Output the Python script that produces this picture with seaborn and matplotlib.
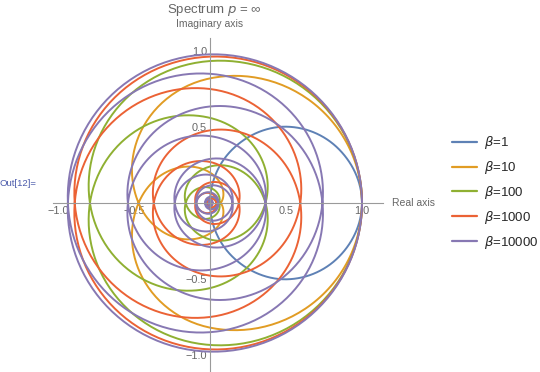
import numpy as np
import pandas as pd
import matplotlib
matplotlib.use("Agg")
import matplotlib.pyplot as plt
from matplotlib.lines import Line2D
import seaborn as sns

# Legend labels and the Mathematica default colours
betas = ["$\\beta$=1", "$\\beta$=10", "$\\beta$=100", "$\\beta$=1000", "$\\beta$=10000"]
colors = ["#5E81B5", "#E19C24", "#8FB032", "#EB6235", "#8778B3"]

# radius of each curve, one value per step of angle
# (beta=1 every eighth of a turn, the others every quarter of a turn)
r_b1 = [1.0, 0.92, 0.71, 0.38, 0.0]
r_b10 = [1.0, 0.82, 0.47, 0.20, 0.07, 0.025, 0.008, 0.0]
r_b100 = [1.0, 0.934, 0.79, 0.56, 0.365, 0.24, 0.16, 0.10, 0.06, 0.035, 0.02, 0.01, 0.0]
r_b1000 = [1.0, 0.963, 0.89, 0.75, 0.594, 0.478, 0.37, 0.27, 0.19, 0.135, 0.095,
           0.065, 0.043, 0.028, 0.018, 0.011, 0.006, 0.0]
r_b10000 = [1.0, 0.978, 0.935, 0.85, 0.74, 0.635, 0.54, 0.44, 0.365, 0.29, 0.232,
            0.185, 0.148, 0.115, 0.09, 0.07, 0.054, 0.041, 0.031, 0.023, 0.017,
            0.012, 0.008, 0.005, 0.0]
radii = [r_b1, r_b10, r_b100, r_b1000, r_b10000]
steps = [np.pi / 8, np.pi / 2, np.pi / 2, np.pi / 2, np.pi / 2]

x_ticks = [-1.0, -0.5, 0.5, 1.0]
x_tick_labels = ["\u22121.0", "\u22120.5", "0.5", "1.0"]


def smooth(r, step, per=60):
    # curve is symmetric about the real axis: mirror the read radii
    r = np.asarray(r, dtype=float)
    rr = np.concatenate([r[::-1], r[1:]])
    th = (np.arange(len(rr)) - (len(r) - 1)) * step
    p = np.concatenate([[2 * rr[0] - rr[1]], rr, [2 * rr[-1] - rr[-2]]])
    t = np.linspace(0, 1, per, endpoint=False)
    h00 = 2 * t**3 - 3 * t**2 + 1
    h10 = t**3 - 2 * t**2 + t
    h01 = -2 * t**3 + 3 * t**2
    h11 = t**3 - t**2
    r_out, th_out = [], []
    for i in range(len(rr) - 1):
        m0 = (p[i + 2] - p[i]) / 2
        m1 = (p[i + 3] - p[i + 1]) / 2
        r_out.append(h00 * rr[i] + h10 * m0 + h01 * rr[i + 1] + h11 * m1)
        th_out.append(th[i] + t * step)
    r_out.append([rr[-1]])
    th_out.append([th[-1]])
    r_out = np.clip(np.concatenate(r_out), 0, None)
    th_out = np.concatenate(th_out)
    return r_out * np.cos(th_out), r_out * np.sin(th_out)


frames = []
for lab, r, st in zip(betas, radii, steps):
    x, y = smooth(r, st)
    frames.append(pd.DataFrame({"x": x, "y": y, "beta": lab}))
df = pd.concat(frames, ignore_index=True)

sns.set_style("white")
plt.rcParams["font.family"] = ["Liberation Sans", "DejaVu Sans"]

fig = plt.figure(figsize=(5.4, 3.72), dpi=100)
# origin at pixel (210, 203), 152 px per unit
ax = fig.add_axes([53 / 540, 0.0, 330 / 540, 334 / 372])
sns.lineplot(data=df, x="x", y="y", hue="beta", palette=colors, sort=False,
             estimator=None, linewidth=1.4, legend=False, ax=ax)
ax.set_xlim((53 - 210) / 152, (383 - 210) / 152)
ax.set_ylim((203 - 372) / 152, (203 - 38) / 152)

axis_grey = "#9a9a9a"
for s in ["top", "right"]:
    ax.spines[s].set_visible(False)
for s in ["left", "bottom"]:
    ax.spines[s].set_position(("data", 0))
    ax.spines[s].set_color(axis_grey)
    ax.spines[s].set_linewidth(0.8)
ax.set_xticks(x_ticks)
ax.set_xticklabels(x_tick_labels)
ax.set_yticks(x_ticks)
ax.set_yticklabels(x_tick_labels)
ax.set_xticks(np.arange(-1.0, 1.11, 0.1), minor=True)
ax.set_yticks(np.arange(-1.1, 1.01, 0.1), minor=True)
ax.tick_params(which="major", direction="in", length=4, width=0.7,
               color=axis_grey, labelcolor="#666666", labelsize=7.8, pad=2)
ax.tick_params(which="minor", direction="in", length=2.2, width=0.6, color=axis_grey)
ax.set_xlabel("")
ax.set_ylabel("")

fig.text(392 / 540, 1 - 203 / 372, "Real axis", color="#666666", fontsize=7.5,
         ha="left", va="center")
fig.text(210 / 540, 1 - 24 / 372, "Imaginary axis", color="#666666", fontsize=7.5,
         ha="center", va="center")
fig.text(214 / 540, 1 - 10 / 372, "Spectrum $p$ = \u221e", color="#666666",
         fontsize=9.5, ha="center", va="center")
fig.text(0.0, 1 - 183 / 372, "Out[12]=", color="#4b5bab", fontsize=6.8,
         ha="left", va="center")

handles = [Line2D([], [], color=c, lw=1.6) for c in colors]
fig.legend(handles, betas, loc="upper left", bbox_to_anchor=(447 / 540, 1 - 129 / 372),
           frameon=False, fontsize=9.5, handlelength=1.9, handletextpad=0.5,
           labelspacing=0.6, borderaxespad=0)

fig.savefig("out.png", dpi=100)
